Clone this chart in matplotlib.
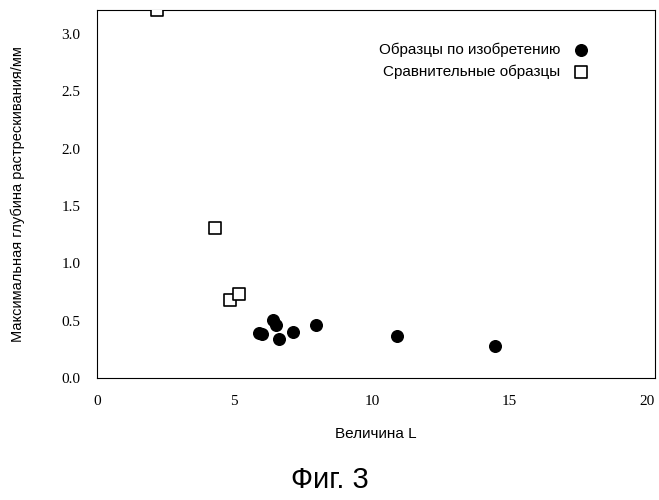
import matplotlib.pyplot as plt

inv_x = [5.88, 6.0, 6.42, 6.53, 6.64, 7.12, 7.96, 10.91, 14.49]
inv_y = [0.39, 0.38, 0.51, 0.46, 0.34, 0.40, 0.46, 0.37, 0.28]
cmp_x = [2.19, 4.31, 4.85, 5.18]
cmp_y = [3.21, 1.31, 0.68, 0.73]

fig = plt.figure(figsize=(6.59, 5), dpi=100)
ax = fig.add_axes([0.147, 0.244, 0.847, 0.736])
ax.scatter(inv_x, inv_y, s=70, color='black', label='Образцы по изобретению', zorder=3)
ax.scatter(cmp_x, cmp_y, s=70, facecolor='white', edgecolor='black', marker='s',
           linewidths=1.2, label='Сравнительные образцы', zorder=3)
ax.set_xlim(0, 20.3)
ax.set_ylim(0, 3.21)
ax.set_xticks([0, 5, 10, 15, 20])
ax.set_yticks([0, 0.5, 1.0, 1.5, 2.0, 2.5, 3.0])
ax.set_yticklabels(['0.0', '0.5', '1.0', '1.5', '2.0', '2.5', '3.0'])
for t in ax.get_xticklabels() + ax.get_yticklabels():
    t.set_fontfamily('Liberation Serif')
    t.set_fontsize(11)
ax.tick_params(direction='in', length=0, pad=12)
ax.set_xlabel('Величина L', family='Liberation Sans', fontsize=11, labelpad=14)
ax.set_ylabel('Максимальная глубина растрескивания/мм', family='Liberation Sans',
              fontsize=10.5, labelpad=26)
ax.legend(loc='upper right', bbox_to_anchor=(0.92, 0.95), frameon=False, markerfirst=False,
          prop={'family': 'Liberation Sans', 'size': 11}, handletextpad=0.4, labelspacing=0.5,
          alignment='right')
fig.text(0.5, 0.025, 'Фиг. 3', ha='center', family='Liberation Sans', fontsize=21)
fig.savefig('out.png')
